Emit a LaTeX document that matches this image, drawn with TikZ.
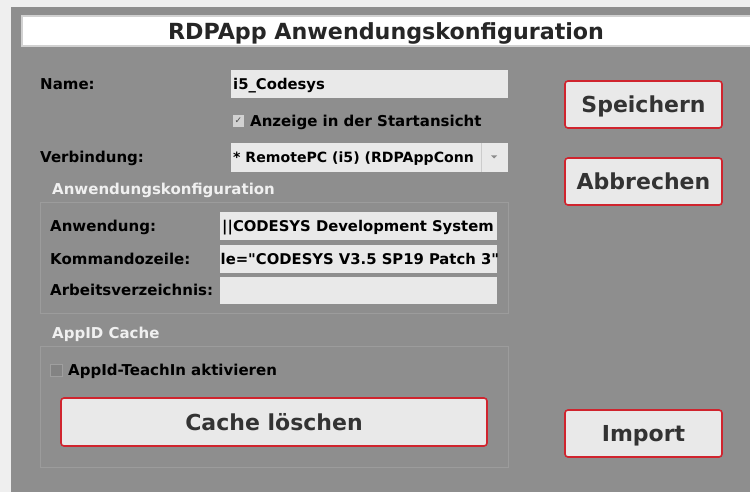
\documentclass[tikz,border=0pt]{standalone}
\usepackage{fontspec}
\setmainfont{DejaVu Sans}[Ligatures=TeXOff]
\definecolor{bgout}{HTML}{EFEFEF}
\definecolor{panel}{HTML}{8E8E8E}
\definecolor{fieldc}{HTML}{E9E9E9}
\definecolor{btnred}{HTML}{D0242E}
\definecolor{grpline}{HTML}{9C9C9C}
\definecolor{btntext}{HTML}{333333}
\begin{document}
\begin{tikzpicture}[x=1pt,y=-1pt,
  lbl/.style={anchor=base west,inner sep=0pt,font=\bfseries\fontsize{15}{18}\selectfont,text=black},
  val/.style={anchor=base west,inner sep=0pt,font=\bfseries\fontsize{14.8}{18}\selectfont,text=black},
  grptitle/.style={anchor=base west,inner sep=0pt,font=\bfseries\fontsize{15}{18}\selectfont,text=white!94!black},
  field/.style={fill=fieldc,draw=none},
  btn/.style={fill=fieldc,draw=btnred,line width=1.6pt,rounded corners=3pt},
  btnlbl/.style={anchor=base,inner sep=0pt,font=\bfseries\fontsize{22}{26}\selectfont,text=btntext},
  grp/.style={draw=grpline,line width=1pt}]
\useasboundingbox (0,0) rectangle (750,492);
\fill[bgout] (0,0) rectangle (750,492);
\fill[panel] (11,7) rectangle (750,492);
% title
\draw[fill=white,draw=white!82!black,line width=1.5pt] (22,16) rectangle (752,46);
\node[anchor=base,inner sep=0pt,font=\bfseries\fontsize{22.2}{26}\selectfont,text=black!85] (title) at (386,39.5) {RDPApp Anwendungskonfiguration};
% name
\node[lbl] (lname) at (40,89.5) {Name:};
\fill[field] (231,70) rectangle (508,98);
\node[val] (vname) at (233,89.5) {i5\_Codesys};
% check
\fill[fieldc!75!panel] (233,115) rectangle (244,127);
\node[inner sep=0pt,font=\fontsize{9}{10}\selectfont,text=black!70] (chk1) at (238.5,121) {✓};
\node[lbl] (lanz) at (250,126.5) {Anzeige in der Startansicht};
% connection
\node[lbl] (lverb) at (40,162.5) {Verbindung:};
\fill[field] (231,143) rectangle (508,172);
\begin{scope}
\clip (231,143) rectangle (480.5,172);
\node[val,font=\bfseries\fontsize{14.1}{18}\selectfont] (vverb) at (233,162.5) {* RemotePC (i5) (RDPAppConn};
\end{scope}
\draw[white!80!black,line width=0.6pt] (481,143) -- (481,172);
\fill[black!45] (491,155.5) -- (497,155.5) -- (494,158.5) -- cycle;
% group 1
\draw[grp] (40,202) rectangle (508,313);
\node[grptitle] (g1) at (52,194) {Anwendungskonfiguration};
\node[lbl] (lanw) at (50,231.5) {Anwendung:};
\fill[field] (220,212) rectangle (497,240);
\node[lbl] (lkom) at (50,264.5) {Kommandozeile:};
\fill[field] (220,245) rectangle (497,273);
\node[lbl] (larb) at (50,295.5) {Arbeitsverzeichnis:};
\fill[field] (220,277) rectangle (497,304);
\begin{scope}
\clip (220,212) rectangle (497,273);
\node[val] (vanw) at (222,231.5) {||CODESYS Development System};
\node[val] (vkom) at (220.5,264.5) {le="CODESYS V3.5 SP19 Patch 3"};
\end{scope}
% group 2
\draw[grp] (40,346) rectangle (508,467);
\node[grptitle] (g2) at (52,338.5) {AppID Cache};
\draw[fill=panel!92!black,draw=panel!85!white,line width=0.6pt] (50,364) rectangle (62,376);
\node[lbl] (lteach) at (68,375.5) {AppId-TeachIn aktivieren};
\draw[btn] (61,398) rectangle (487,446);
\node[btnlbl] (bcache) at (274,430) {Cache löschen};
% buttons
\draw[btn] (565,81) rectangle (722,128);
\node[btnlbl] (bsave) at (643.5,112.5) {Speichern};
\draw[btn] (565,158) rectangle (722,205);
\node[btnlbl] (bcancel) at (643.5,189.5) {Abbrechen};
\draw[btn] (565,410) rectangle (722,457);
\node[btnlbl] (bimp) at (643.5,441.5) {Import};
\end{tikzpicture}
\end{document}
